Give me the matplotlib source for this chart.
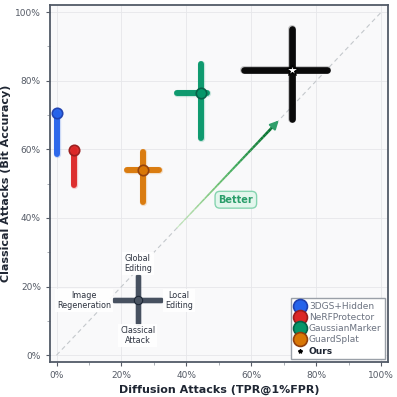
import numpy as np
import matplotlib.pyplot as plt
from matplotlib.collections import LineCollection

# 数据 (百分比)
methods = ['3DGS+Hidden', 'NeRFProtector', 'GaussianMarker', 'GuardSplat']
colors = ['#2563eb', '#dc2626', '#059669', '#d97706']
edge_colors = ['#1e40af', '#991b1b', '#065f46', '#92400e']
x_mid = [0.0, 5.5, 44.5, 26.5]
y_mid = [70.6, 59.8, 76.5, 54.1]
x_low = [0.0, 5.5, 37.0, 21.7]
x_high = [0.0, 5.5, 46.2, 31.4]
y_low = [58.5, 49.5, 63.3, 44.6]
y_high = [70.6, 59.8, 84.8, 59.3]

ours_x, ours_y = 72.6, 83.0
ours_x_range = [57.8, 83.3]
ours_y_range = [68.8, 95.0]

# 示意十字 (图例说明)
sketch_center = (25.0, 16.0)
sketch_x_range = [17.8, 32.2]
sketch_y_range = [9.3, 23.2]
sketch_labels = ['Global\nEditing', 'Local\nEditing', 'Image\nRegeneration', 'Classical\nAttack']
sketch_label_pos = [(25.0, 26.7), (37.7, 16.0), (8.4, 16.0), (25.0, 5.8)]

arrow_start, arrow_end = 37.0, 69.0
ticks = [0, 20, 40, 60, 80, 100]

fig = plt.figure(figsize=(3.97, 3.97), dpi=100)
ax = fig.add_axes([0.126, 0.088, 0.851, 0.899])
ax.set_facecolor('#f9f9fa')
ax.set_xlim(-2, 102)
ax.set_ylim(-2, 102)


def bar(x0, y0, x1, y1, color, lw=4.3, z=3):
    # 柔和边缘: 先画一条稍宽的半透明线
    ax.plot([x0, x1], [y0, y1], color=color, lw=lw + 1.0, alpha=0.2,
            solid_capstyle='round', zorder=z)
    ax.plot([x0, x1], [y0, y1], color=color, lw=lw, alpha=0.95,
            solid_capstyle='round', zorder=z + 0.1)


# 对角线
ax.plot([0, 100], [0, 100], ls=(0, (4, 3)), color='#c4c8cc', lw=0.8, zorder=1)

# 渐变箭头
t = np.linspace(arrow_start, arrow_end - 1.5, 40)
segs = [[(t[i], t[i]), (t[i + 1], t[i + 1])] for i in range(len(t) - 1)]
cmap = plt.cm.Greens
lc = LineCollection(segs, colors=[cmap(0.25 + 0.65 * i / len(segs)) for i in range(len(segs))],
                    linewidths=np.linspace(0.8, 2.0, len(segs)), zorder=2)
ax.add_collection(lc)
ax.annotate('', xy=(arrow_end, arrow_end), xytext=(arrow_end - 3, arrow_end - 3),
            arrowprops=dict(arrowstyle='-|>,head_length=0.5,head_width=0.25',
                            color='#2f9e6a', lw=1.5), zorder=2)
ax.text(55.2, 45.3, 'Better', color='#2a9d6a', fontsize=7, fontweight='bold',
        ha='center', va='center', zorder=5,
        bbox=dict(boxstyle='round,pad=0.35,rounding_size=0.5', fc='#e3f6ed',
                  ec='#86d4b0', lw=1.0))

# 各方法
for i, m in enumerate(methods):
    if x_high[i] > x_low[i]:
        bar(x_low[i], y_mid[i], x_high[i], y_mid[i], colors[i])
    bar(x_mid[i], y_low[i], x_mid[i], y_high[i], colors[i])
    ax.plot(x_mid[i], y_mid[i], 'o', ms=7.5, color=colors[i], mec=edge_colors[i],
            mew=1.2, alpha=0.95, zorder=5)
    ax.plot([], [], 'o', ms=10, color=colors[i], mec=edge_colors[i], mew=1.2,
            label=m)

# Ours
bar(ours_x_range[0], ours_y, ours_x_range[1], ours_y, 'black', lw=4.8)
bar(ours_x, ours_y_range[0], ours_x, ours_y_range[1], 'black', lw=4.8)
ax.plot(ours_x, ours_y, '*', ms=9, color='white', mec='black', mew=0.8, zorder=6)
ax.plot([], [], '*', ms=3, color='black', label='Ours')

# 示意十字
sc = '#3f4a5a'
bar(sketch_x_range[0], sketch_center[1], sketch_x_range[1], sketch_center[1], sc, lw=3.8)
bar(sketch_center[0], sketch_y_range[0], sketch_center[0], sketch_y_range[1], sc, lw=3.8)
ax.plot(*sketch_center, 'o', ms=6, color='#4b5563', mec='#1f2937', mew=0.8, zorder=5)
for lab, (lx, ly) in zip(sketch_labels, sketch_label_pos):
    ax.text(lx, ly, lab, fontsize=5.8, color='#2d3340', ha='center', va='center',
            linespacing=1.1, zorder=5,
            bbox=dict(boxstyle='square,pad=0.25', fc='white', ec='none', alpha=0.9))

# 坐标轴样式
ax.set_xticks(ticks)
ax.set_yticks(ticks)
ax.set_xticklabels([f'{v}%' for v in ticks])
ax.set_yticklabels([f'{v}%' for v in ticks])
ax.set_xticks([10, 30, 50, 70, 90], minor=True)
ax.set_yticks([10, 30, 50, 70, 90], minor=True)
ax.tick_params(axis='both', which='major', labelsize=6.5, colors='#555b66',
               length=3, width=0.8)
ax.tick_params(axis='both', which='minor', length=2, width=0.6, colors='#9aa0a8')
ax.grid(True, which='major', color='#e6e7ea', lw=0.6)
ax.set_axisbelow(True)
for s in ax.spines.values():
    s.set_color('#525a67')
    s.set_linewidth(1.3)

ax.set_xlabel('Diffusion Attacks (TPR@1%FPR)', fontsize=8, fontweight='bold',
              color='#1f2633', labelpad=3)
ax.set_ylabel('Classical Attacks (Bit Accuracy)', fontsize=8, fontweight='bold',
              color='#1f2633', labelpad=3)

leg = ax.legend(loc='lower right', fontsize=6.5, frameon=True, fancybox=False,
                edgecolor='#9aa0a8', facecolor='white', framealpha=1,
                handletextpad=0.4, labelspacing=0.25, borderpad=0.4,
                handlelength=1.2, borderaxespad=0.3)
for txt in leg.get_texts():
    txt.set_color('#6b7280')
leg.get_texts()[-1].set_color('#1f2633')
leg.get_texts()[-1].set_fontweight('bold')

plt.savefig('out.png', dpi=100)
